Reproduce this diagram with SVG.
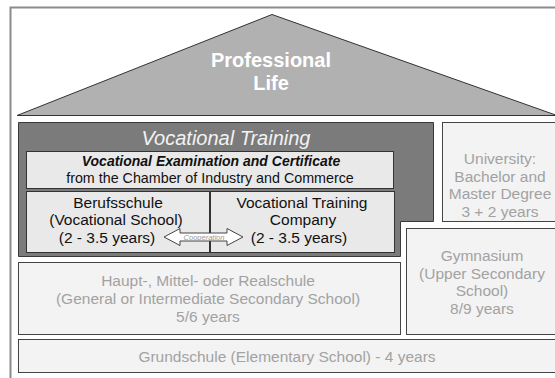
<svg xmlns="http://www.w3.org/2000/svg" width="555" height="378" viewBox="0 0 555 378">
  <style>
    text { font-family: "Liberation Sans", Arial, sans-serif; text-anchor: middle; }
    .frame { fill: none; stroke: #8c8c8c; stroke-width: 2; }
    .roof { fill: #b1b1b1; stroke: #333; stroke-width: 1; }
    .roof-t { fill: #ffffff; font-size: 20px; font-weight: bold; }
    .voc { fill: #7b7b7b; stroke: #3a3a3a; stroke-width: 1; }
    .voc-t { fill: #f2f2f2; font-size: 20px; font-style: italic; }
    .inner { fill: #e9e9e9; stroke: #333; stroke-width: 1; }
    .inner-t { fill: #111; font-size: 15.5px; }
    .school { fill: #f3f3f3; stroke: #444; stroke-width: 1; }
    .school-t { fill: #a2a2a2; font-size: 15.5px; }
    .arrow { fill: #ffffff; stroke: #444; stroke-width: 1; }
    .coop { fill: #999; font-size: 7.5px; font-style: italic; }
  </style>

  <rect width="555" height="378" fill="#ffffff"/>

  <!-- outer frame, open to the right and bottom -->
  <path class="frame" d="M10.5,378 V7.5 H556"/>

  <g id="professional-life">
    <polygon class="roof" points="17,115.5 272,14.5 557,115.5"/>
    <text class="roof-t" x="271" y="67">Professional</text>
    <text class="roof-t" x="271" y="90">Life</text>
  </g>

  <g id="vocational-training">
    <path class="voc" d="M18.5,122.5 H433.5 V221.5 H400.5 V256.5 H18.5 Z"/>
    <text class="voc-t" x="226" y="145">Vocational Training</text>
  </g>

  <g id="examination">
    <rect class="inner" x="26.5" y="151.5" width="367" height="37"/>
    <text class="inner-t" x="211" y="166" style="font-size:14px;font-weight:bold;font-style:italic">Vocational Examination and Certificate</text>
    <text class="inner-t" x="210" y="183" style="font-size:14.3px">from the Chamber of Industry and Commerce</text>
  </g>

  <g id="berufsschule">
    <rect class="inner" x="26.5" y="191.5" width="183" height="61"/>
    <text class="inner-t" x="118" y="207.5">Berufsschule</text>
    <text class="inner-t" x="116" y="225">(Vocational School)</text>
    <text class="inner-t" x="107" y="242.5">(2 - 3.5 years)</text>
  </g>

  <g id="training-company">
    <rect class="inner" x="210.5" y="191.5" width="184" height="61"/>
    <text class="inner-t" x="302" y="207.5">Vocational Training</text>
    <text class="inner-t" x="303" y="225">Company</text>
    <text class="inner-t" x="299" y="242.5">(2 - 3.5 years)</text>
  </g>

  <g id="connectors">
    <g id="cooperation">
      <polygon class="arrow" points="164,237 180,228.5 180,233 227,233 227,228.5 243,237 227,245.5 227,241 180,241 180,245.5"/>
      <text class="coop" x="204" y="239.5">Cooperation</text>
    </g>
  </g>

  <g id="university">
    <rect class="school" x="442.5" y="122.5" width="120" height="99"/>
    <text class="school-t" x="500" y="164">University:</text>
    <text class="school-t" x="500" y="181.5">Bachelor and</text>
    <text class="school-t" x="500" y="199">Master Degree</text>
    <text class="school-t" x="500" y="216.5">3 + 2 years</text>
  </g>

  <g id="gymnasium">
    <rect class="school" x="406.5" y="228.5" width="160" height="106"/>
    <text class="school-t" x="482" y="261">Gymnasium</text>
    <text class="school-t" x="482" y="278.5">(Upper Secondary</text>
    <text class="school-t" x="482" y="296">School)</text>
    <text class="school-t" x="482" y="313.5">8/9 years</text>
  </g>

  <g id="secondary-school">
    <rect class="school" x="18.5" y="262.5" width="382" height="72"/>
    <text class="school-t" x="208" y="286">Haupt-, Mittel- oder Realschule</text>
    <text class="school-t" x="208" y="304">(General or Intermediate Secondary School)</text>
    <text class="school-t" x="208" y="321.5">5/6 years</text>
  </g>

  <g id="grundschule">
    <rect class="school" x="18.5" y="339.5" width="548" height="33"/>
    <text class="school-t" x="287" y="361.5">Grundschule (Elementary School) - 4 years</text>
  </g>
</svg>
